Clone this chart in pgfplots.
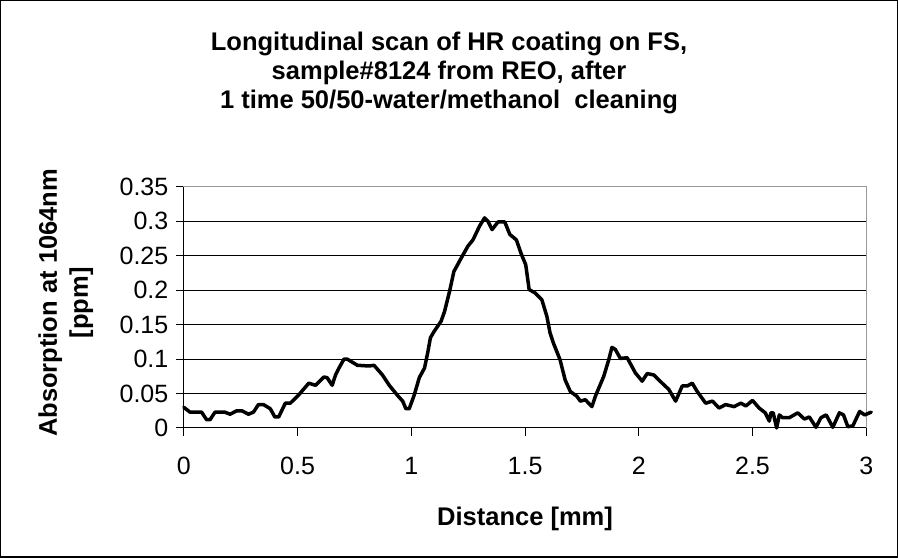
\documentclass[border=0pt]{standalone}
\usepackage{pgfplots}
\pgfplotsset{compat=1.18}
\usepackage{fontspec}
\setmainfont{Liberation Sans}
\begin{document}
\begin{tikzpicture}
\draw[black, line width=1.5pt] (-183pt,-129pt) rectangle (713pt,427pt);
\begin{axis}[
  at={(0pt,0pt)}, anchor=south west,
  scale only axis,
  width=682pt, height=241pt,
  xmin=0, xmax=3, ymin=0, ymax=0.35,
  clip=false,
  axis line style={draw=gray!80, line width=1pt},
  xtick={0,0.5,1,1.5,2,2.5,3},
  xticklabels={0,0.5,1,1.5,2,2.5,3},
  ytick={0,0.05,0.1,0.15,0.2,0.25,0.3,0.35},
  yticklabels={0,0.05,0.1,0.15,0.2,0.25,0.3,0.35},
  extra y ticks={0,0.05,0.1,0.15,0.2,0.25,0.3},
  extra y tick labels={},
  extra y tick style={ymajorgrids=true, major tick length=0pt},
  extra x ticks={0},
  extra x tick labels={},
  extra x tick style={xmajorgrids=true, major tick length=0pt},
  major grid style={black, line width=1pt},
  tick align=outside,
  major tick length=8pt,
  tick style={black, line width=1pt},
  xtick pos=bottom, ytick pos=left,
  scaled ticks=false,
  /pgf/number format/assume math mode=true,
  ticklabel style={font=\fontsize{25}{29}\selectfont},
  yticklabel style={xshift=-4pt},
  xticklabel style={yshift=-17.5pt},
]
\addplot[black, line width=3.5pt, line join=round, line cap=round] coordinates {
(0,0.030) (0.027,0.023) (0.078,0.023) (0.10,0.012) (0.115,0.012) (0.137,0.023)
(0.18,0.023) (0.203,0.020) (0.233,0.025) (0.255,0.025) (0.284,0.020) (0.306,0.023)
(0.328,0.034) (0.35,0.034) (0.38,0.028) (0.40,0.016) (0.417,0.016) (0.446,0.036)
(0.468,0.036) (0.505,0.048) (0.549,0.065) (0.579,0.062) (0.616,0.074) (0.63,0.073)
(0.652,0.062) (0.667,0.077) (0.682,0.087) (0.704,0.100) (0.718,0.100) (0.763,0.091)
(0.814,0.090) (0.836,0.091) (0.873,0.077) (0.903,0.062) (0.94,0.047) (0.962,0.039)
(0.976,0.028) (0.991,0.028) (1.013,0.048) (1.035,0.073) (1.058,0.087) (1.072,0.109)
(1.084,0.131) (1.10,0.140) (1.131,0.155) (1.146,0.169) (1.168,0.198) (1.187,0.227)
(1.22,0.247) (1.249,0.264) (1.271,0.273) (1.30,0.293) (1.322,0.305) (1.337,0.300)
(1.355,0.288) (1.381,0.299) (1.411,0.299) (1.433,0.281) (1.462,0.273) (1.484,0.252)
(1.503,0.237) (1.518,0.201) (1.544,0.196) (1.574,0.186) (1.596,0.162) (1.61,0.138)
(1.625,0.123) (1.654,0.099) (1.676,0.070) (1.699,0.053) (1.728,0.046) (1.743,0.039)
(1.765,0.041) (1.794,0.031) (1.809,0.046) (1.846,0.075) (1.868,0.099) (1.882,0.117)
(1.897,0.114) (1.919,0.101) (1.949,0.102) (1.985,0.080) (2.015,0.068) (2.037,0.079)
(2.066,0.077) (2.103,0.065) (2.132,0.056) (2.162,0.039) (2.191,0.061) (2.213,0.061)
(2.235,0.065) (2.257,0.053) (2.294,0.036) (2.324,0.039) (2.353,0.029) (2.382,0.034)
(2.419,0.031) (2.449,0.036) (2.471,0.032) (2.50,0.040) (2.529,0.029) (2.556,0.022)
(2.574,0.010) (2.581,0.022) (2.591,0.022) (2.606,0.000) (2.618,0.019) (2.632,0.015)
(2.662,0.015) (2.699,0.022) (2.728,0.013) (2.75,0.016) (2.779,0.001) (2.801,0.015)
(2.824,0.019) (2.853,0.001) (2.882,0.022) (2.90,0.019) (2.919,0.002) (2.941,0.003)
(2.971,0.024) (2.993,0.019) (3.022,0.023)
};
\end{axis}
\node[align=center, font=\fontsize{25.5}{29}\selectfont\bfseries] at (265pt,355pt)
  {Longitudinal scan of HR coating on FS,\\ sample\#8124 from REO, after\\ 1 time 50/50-water/methanol\ \ cleaning};
\node[font=\fontsize{25.5}{29}\selectfont\bfseries] at (341pt,-91pt) {Distance [mm]};
\node[rotate=90, align=center, font=\fontsize{25.5}{31}\selectfont\bfseries] at (-118pt,125pt)
  {Absorption at 1064nm\\ {[ppm]}};
\end{tikzpicture}
\end{document}
